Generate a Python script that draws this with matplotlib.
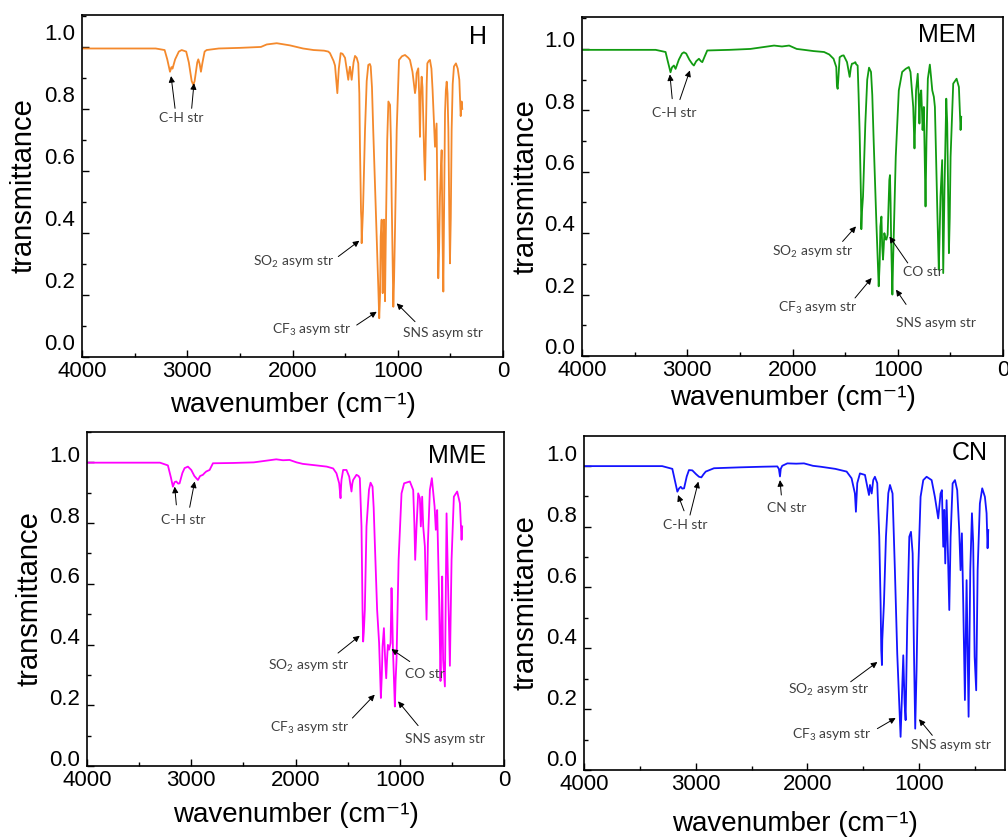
import matplotlib
matplotlib.use("Agg")
import matplotlib.pyplot as plt
import matplotlib.transforms as mtransforms
from matplotlib.ticker import MultipleLocator

plt.rcParams['font.family'] = ['Liberation Sans', 'DejaVu Sans']
plt.rcParams['mathtext.default'] = 'regular'

# ---------------- data ----------------
h_wn = [4000, 3300, 3215, 3190, 3164, 3150, 3140, 3115, 3080, 3053, 3010, 2985, 2958, 2942, 2930, 2905,
        2895, 2882, 2870, 2855, 2835, 2816, 2700, 2500, 2300, 2245, 2150, 2024, 1900, 1800, 1700, 1660,
        1644, 1610, 1596, 1574, 1560, 1542, 1525, 1501, 1470, 1462, 1454, 1438, 1420, 1406, 1390, 1375,
        1365, 1359, 1349, 1345, 1343, 1337, 1330, 1311, 1295, 1280, 1265, 1257, 1245, 1233, 1207, 1185,
        1176, 1168, 1162, 1153, 1148, 1143, 1138, 1131, 1127, 1121, 1113, 1100, 1089, 1073, 1065, 1058,
        1042, 1035, 1026, 1010, 988, 960, 931, 900, 884, 860, 836, 828, 821, 805, 797, 789, 781, 773,
        765, 757, 749, 741, 732, 725, 719, 705, 694, 680, 669, 655, 646, 638, 631, 623, 615, 607, 599,
        591, 583, 575, 567, 560, 551, 543, 535, 527, 519, 510, 504, 496, 488, 478, 466, 447, 430, 415,
        402, 393, 387]
h_T = [0.995, 0.995, 0.99, 0.96, 0.92, 0.935, 0.93, 0.96, 0.985, 0.99, 0.985, 0.95, 0.89, 0.877, 0.89, 0.95,
       0.96, 0.945, 0.92, 0.95, 0.985, 0.99, 0.995, 0.997, 1.0, 1.008, 1.012, 1.005, 0.995, 0.99, 0.988, 0.985,
       0.98, 0.955, 0.94, 0.851, 0.93, 0.98, 0.978, 0.965, 0.894, 0.92, 0.936, 0.894, 0.95, 0.971, 0.965, 0.947,
       0.85, 0.678, 0.469, 0.44, 0.367, 0.42, 0.474, 0.732, 0.89, 0.942, 0.945, 0.937, 0.87, 0.732, 0.464, 0.227,
       0.125, 0.2, 0.388, 0.443, 0.35, 0.206, 0.3, 0.443, 0.3, 0.18, 0.4, 0.7, 0.824, 0.813, 0.7, 0.517,
       0.162, 0.25, 0.41, 0.732, 0.958, 0.97, 0.974, 0.965, 0.958, 0.92, 0.851, 0.87, 0.915, 0.931, 0.85, 0.71, 0.85, 0.904,
       0.87, 0.765, 0.65, 0.571, 0.732, 0.88, 0.947, 0.955, 0.958, 0.93, 0.861, 0.75, 0.678, 0.72, 0.753, 0.5, 0.254, 0.35, 0.517,
       0.6, 0.667, 0.4, 0.211, 0.45, 0.786, 0.86, 0.888, 0.85, 0.732, 0.45, 0.302, 0.45, 0.732, 0.88, 0.937, 0.947, 0.93, 0.894,
       0.777, 0.824, 0.8]

mem_wn = [4000, 3300, 3206, 3185, 3159, 3145, 3127, 3111, 3080, 3050, 3032, 3010, 2980, 2952, 2937, 2915,
          2889, 2870, 2857, 2835, 2810, 2600, 2400, 2175, 2100, 2032, 1960, 1889, 1800, 1700, 1651, 1610,
          1584, 1578, 1571, 1565, 1552, 1530, 1514, 1482, 1457, 1445, 1435, 1420, 1403, 1395, 1381, 1372,
          1362, 1349, 1346, 1340, 1330, 1308, 1290, 1273, 1254, 1242, 1229, 1203, 1181, 1172, 1165, 1155,
          1148, 1140, 1134, 1127, 1117, 1108, 1096, 1080, 1074, 1068, 1063, 1051, 1045, 1039, 1019, 990,
          958, 925, 895, 879, 853, 841, 835, 826, 810, 802, 794, 786, 777, 770, 764, 752, 744, 736, 727,
          714, 695, 684, 672, 657, 647, 636, 625, 610, 602, 594, 578, 568, 556, 539, 530, 522, 514, 506,
          498, 473, 441, 419, 403, 397]
mem_T = [0.997, 0.997, 0.99, 0.96, 0.924, 0.94, 0.946, 0.935, 0.965, 0.985, 0.989, 0.985, 0.965, 0.951, 0.946, 0.96,
         0.968, 0.96, 0.957, 0.975, 0.995, 0.997, 1.0, 1.011, 1.008, 1.011, 1.0, 0.997, 0.993, 0.99, 0.982, 0.968,
         0.941, 0.88, 0.87, 0.9, 0.973, 0.978, 0.979, 0.957, 0.909, 0.94, 0.952, 0.953, 0.957, 0.95, 0.946, 0.85,
         0.725, 0.508, 0.413, 0.47, 0.519, 0.757, 0.9, 0.939, 0.925, 0.85, 0.703, 0.433, 0.227, 0.3, 0.422, 0.454,
         0.36, 0.314, 0.35, 0.4, 0.38, 0.379, 0.395, 0.573, 0.589, 0.5, 0.379, 0.2, 0.3, 0.379, 0.649, 0.865,
         0.925, 0.935, 0.941, 0.925, 0.811, 0.676, 0.75, 0.865, 0.919, 0.85, 0.757, 0.85, 0.865, 0.8, 0.736, 0.811, 0.65, 0.487, 0.703,
         0.903, 0.949, 0.91, 0.865, 0.844, 0.811, 0.65, 0.487, 0.281, 0.4, 0.519, 0.638, 0.27, 0.541, 0.838, 0.757, 0.55, 0.335, 0.45,
         0.649, 0.887, 0.903, 0.876, 0.736, 0.779]

mme_wn = [4000, 3300, 3224, 3195, 3176, 3160, 3144, 3125, 3112, 3085, 3064, 3032, 3000, 2970, 2952, 2936,
          2915, 2888, 2872, 2856, 2824, 2792, 2600, 2400, 2185, 2120, 2057, 1990, 1930, 1800, 1700, 1639,
          1607, 1581, 1568, 1563, 1559, 1543, 1511, 1485, 1463, 1455, 1447, 1415, 1395, 1383, 1367, 1357,
          1351, 1345, 1335, 1319, 1295, 1280, 1261, 1250, 1239, 1217, 1198, 1181, 1172, 1165, 1152, 1146,
          1140, 1130, 1122, 1114, 1102, 1088, 1079, 1072, 1066, 1047, 1040, 1031, 1011, 983, 958, 903, 871,
          860, 852, 839, 823, 807, 798, 785, 775, 759, 743, 730, 711, 692, 666, 654, 641, 622, 609, 601,
          593, 584, 567, 551, 539, 519, 503, 481, 449, 423, 407, 401]
mme_T = [0.999, 0.999, 0.99, 0.95, 0.92, 0.935, 0.937, 0.93, 0.931, 0.965, 0.981, 0.986, 0.975, 0.955, 0.948, 0.942,
         0.955, 0.959, 0.965, 0.97, 0.975, 0.997, 0.998, 1.0, 1.01, 1.007, 1.008, 1.0, 0.995, 0.99, 0.986, 0.98,
         0.964, 0.931, 0.882, 0.92, 0.942, 0.975, 0.975, 0.953, 0.904, 0.93, 0.942, 0.959, 0.955, 0.948, 0.789, 0.514,
         0.41, 0.44, 0.514, 0.789, 0.91, 0.933, 0.92, 0.85, 0.734, 0.514, 0.405, 0.224, 0.3, 0.394, 0.454, 0.4,
         0.35, 0.289, 0.35, 0.399, 0.383, 0.405, 0.586, 0.5, 0.394, 0.196, 0.28, 0.35, 0.679, 0.898, 0.931, 0.937, 0.909,
         0.8, 0.679, 0.789, 0.898, 0.882, 0.789, 0.887, 0.789, 0.723, 0.482, 0.734, 0.909, 0.948, 0.855, 0.778, 0.843, 0.547, 0.28, 0.45,
         0.624, 0.35, 0.262, 0.832, 0.635, 0.33, 0.679, 0.887, 0.904, 0.865, 0.745, 0.789]

cn_wn = [4000, 3300, 3209, 3185, 3164, 3150, 3134, 3120, 3104, 3080, 3060, 3030, 2995, 2970, 2949, 2930,
         2910, 2836, 2600, 2400, 2269, 2255, 2245, 2238, 2225, 2179, 2100, 2030, 1950, 1881, 1750, 1648,
         1604, 1574, 1565, 1553, 1529, 1484, 1463, 1448, 1439, 1424, 1410, 1395, 1374, 1356, 1344, 1338,
         1332, 1329, 1314, 1296, 1275, 1260, 1237, 1216, 1195, 1177, 1165, 1153, 1141, 1129, 1120, 1105,
         1087, 1072, 1057, 1045, 1034, 1022, 1007, 986, 962, 932, 887, 858, 828, 807, 795, 783, 774, 765,
         753, 741, 729, 717, 699, 678, 658, 640, 628, 616, 604, 589, 574, 556, 541, 526, 515, 502, 488,
         475, 455, 434, 410, 395, 386, 380]
cn_T = [0.999, 0.999, 0.99, 0.95, 0.915, 0.925, 0.931, 0.925, 0.926, 0.965, 0.986, 0.985, 0.972, 0.964, 0.962, 0.972,
        0.981, 0.992, 0.995, 0.997, 0.998, 0.99, 0.965, 0.99, 1.0, 1.008, 1.007, 1.008, 1.0, 0.997, 0.99, 0.981,
        0.959, 0.909, 0.849, 0.943, 0.975, 0.97, 0.931, 0.904, 0.937, 0.909, 0.953, 0.964, 0.943, 0.767, 0.548, 0.394,
        0.345, 0.427, 0.548, 0.767, 0.91, 0.937, 0.909, 0.657, 0.383, 0.219, 0.109, 0.24, 0.377, 0.219, 0.164, 0.493,
        0.767, 0.783, 0.712, 0.383, 0.136, 0.328, 0.657, 0.898, 0.953, 0.964, 0.953, 0.898, 0.827, 0.909, 0.92, 0.734, 0.855, 0.679,
        0.887, 0.712, 0.526, 0.767, 0.942, 0.953, 0.92, 0.789, 0.657, 0.778, 0.548, 0.23, 0.624, 0.175, 0.657, 0.844, 0.745, 0.372, 0.262,
        0.657, 0.876, 0.926, 0.898, 0.844, 0.729, 0.789]

panel_names = ["H", "MEM", "MME", "CN"]
line_colors = ["#f4892c", "#119b11", "#ff00ff", "#1414ff"]
x_ticks = [4000, 3000, 2000, 1000, 0]
y_ticks = [0.0, 0.2, 0.4, 0.6, 0.8, 1.0]

# annotations: (text, text_xy, [(tail_xy, head_xy), ...])
h_ann = [("C-H str", (3059, 0.770), [((3116, 0.802), (3154, 0.906)), ((2958, 0.802), (2936, 0.883))]),
         ("SO$_2$ asym str", (1992, 0.305), [((1565, 0.324), (1365, 0.375))]),
         ("CF$_3$ asym str", (1818, 0.087), [((1390, 0.103), (1200, 0.146))]),
         ("SNS asym str", (567, 0.076), [((836, 0.114), (1010, 0.173))])]
mem_ann = [("C-H str", (3127, 0.792), [((3143, 0.838), (3165, 0.917)), ((3070, 0.835), (2975, 0.930))]),
           ("SO$_2$ asym str", (1810, 0.338), [((1524, 0.373), (1397, 0.422))]),
           ("CF$_3$ asym str", (1762, 0.157), [((1406, 0.189), (1248, 0.254))]),
           ("CO str", (762, 0.274), [((905, 0.303), (1079, 0.389))]),
           ("SNS asym str", (635, 0.108), [((921, 0.168), (1016, 0.216))])]
mme_ann = [("C-H str", (3079, 0.811), [((3143, 0.860), (3159, 0.920)), ((3015, 0.852), (2967, 0.937))]),
           ("SO$_2$ asym str", (1870, 0.328), [((1592, 0.372), (1384, 0.429))]),
           ("CF$_3$ asym str", (1864, 0.125), [((1454, 0.158), (1240, 0.235))]),
           ("CO str", (761, 0.304), [((904, 0.344), (1080, 0.385))]),
           ("SNS asym str", (569, 0.089), [((824, 0.133), (1016, 0.213))])]
cn_ann = [("C-H str", (3096, 0.805), [((3104, 0.852), (3158, 0.904)), ((3051, 0.838), (2976, 0.948))]),
          ("CN str", (2185, 0.860), [((2233, 0.904), (2245, 0.953))]),
          ("SO$_2$ asym str", (1806, 0.262), [((1612, 0.290), (1373, 0.355))]),
          ("CF$_3$ asym str", (1776, 0.114), [((1373, 0.136), (1209, 0.171))]),
          ("SNS asym str", (716, 0.081), [((881, 0.114), (1000, 0.167))])]

# ---------------- layout ----------------
W, H = 1008, 838
fig = plt.figure(figsize=(W / 100, H / 100), dpi=100)

def px_axes(l, r, t, b):
    return [l / W, 1 - b / H, (r - l) / W, (b - t) / H]

axes_px = [(82, 503, 15, 357), (582, 1003, 17, 356), (87, 504, 432, 766), (584, 1005, 436, 770)]
xlims = [(4000, 0), (4000, 0), (4000, 0), (4000, 230)]
ylims = [(0, 1.103), (0, 1.104), (0, 1.100), (0, 1.098)]
label_dy = [11, 7, 6, 9]
ylabel_x = [-0.140, -0.134, -0.137, -0.138]
xlabel_y = [-0.140, -0.124, -0.147, -0.162]
title_xy = [(478, 37), (947, 35), (457, 456), (970, 453)]
data = [(h_wn, h_T, h_ann), (mem_wn, mem_T, mem_ann), (mme_wn, mme_T, mme_ann), (cn_wn, cn_T, cn_ann)]

ann_font = dict(family=['Lato', 'DejaVu Sans'], fontsize=10, color='#404040')

for i, (wn, T, ann) in enumerate(data):
    ax = fig.add_axes(px_axes(*axes_px[i]))
    ax.plot(wn, T, color=line_colors[i], lw=1.3)
    ax.set_xlim(*xlims[i])
    ax.set_ylim(*ylims[i])
    ax.set_xticks([t for t in x_ticks if xlims[i][1] <= t <= xlims[i][0]])
    ax.set_yticks(y_ticks)
    ax.set_yticklabels([f"{v:.1f}" for v in y_ticks])
    ax.xaxis.set_minor_locator(MultipleLocator(500))
    ax.yaxis.set_minor_locator(MultipleLocator(0.1))
    ax.tick_params(which='both', direction='in', top=False, right=False, labelsize=16, width=1.0)
    ax.tick_params(which='major', length=5)
    ax.tick_params(which='minor', length=3)
    ax.tick_params(axis='x', pad=3)
    ax.tick_params(axis='y', pad=5)
    for sp in ax.spines.values():
        sp.set_linewidth(1.2)
    off = mtransforms.ScaledTranslation(0, label_dy[i] / 72, fig.dpi_scale_trans)
    for lab in ax.get_yticklabels():
        lab.set_transform(lab.get_transform() + off)
    ax.set_ylabel("transmittance", fontsize=21)
    ax.yaxis.set_label_coords(ylabel_x[i], 0.5)
    ax.yaxis.label.set_va('center')
    ax.set_xlabel("wavenumber (cm\u207b\u00b9)", fontsize=20)
    ax.xaxis.set_label_coords(0.5, xlabel_y[i])
    ax.xaxis.label.set_va('center')
    fig.text(title_xy[i][0] / W, 1 - title_xy[i][1] / H, panel_names[i], fontsize=18,
             ha='center', va='center')
    for text, txy, arrows in ann:
        ax.text(txy[0], txy[1], text, ha='center', va='center', **ann_font)
        for tail, head in arrows:
            ax.annotate("", xy=head, xytext=tail,
                        arrowprops=dict(arrowstyle='-|>', color='black', lw=0.7,
                                        mutation_scale=9, shrinkA=0, shrinkB=0))

fig.savefig("out.png", dpi=100)
